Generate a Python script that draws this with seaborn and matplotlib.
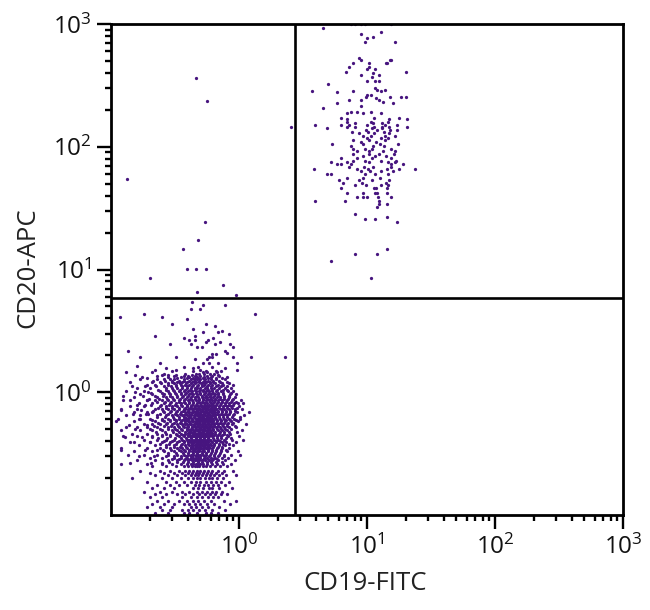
import matplotlib
matplotlib.use("Agg")
import matplotlib.pyplot as plt
from matplotlib.ticker import NullFormatter
import pandas as pd
import seaborn as sns

# events, grouped by CD20 level: each level has its CD19 values
upper_y = [1000, 927, 860, 825, 783, 770, 713, 530, 509, 481, 447, 430, 406, 400, 385, 372, 343,
           325, 300, 290, 285, 280, 262, 252, 248, 240, 232, 226, 214, 207,
           192, 187, 173, 168, 160, 155, 150, 145, 142, 137, 133, 130, 123, 118, 113, 109, 106, 101,
           96, 92, 88, 84, 80.5, 77, 75, 72.5, 69, 66, 63, 60, 56, 54, 51, 49,
           46.5, 42, 39, 36, 34, 32, 28.4, 26.8, 26, 24.3, 14.7, 13.3, 11.7, 8.5]
upper_x = [[7.5, 8.0, 8.9, 9.6, 15.4], [4.57], [12.8], [8.9], [11.1], [9.95], [9.6, 16.5],
           [8.6], [8.93, 15.2, 15.4], [7.73, 10.3, 14.0, 14.3], [7.2, 10.3], [9.95, 11.5],
           [6.9, 20.0], [11.2], [8.93, 12.4], [10.9], [9.95, 11.5, 12.4],
           [5.0], [11.5], [11.9, 13.8], [3.74, 7.73, 12.8], [5.78], [9.95, 10.7],
           [9.8, 15.0, 18.4, 20.0], [11.7], [7.19, 8.93, 12.4], [13.3], [5.78, 16.0], [8.93], [4.57],
           [7.45, 8.31, 10.8], [9.26, 7.02, 12.8], [6.22, 11.3, 17.8], [6.93, 14.8, 20.5],
           [6.93, 10.7, 14.6], [8.01, 11.05, 13.0], [3.95, 6.22, 7.19, 9.95, 13.8, 17.1],
           [6.93, 8.01, 11.3, 13.0, 14.8, 20.5], [4.83, 10.9, 13.2], [9.75, 11.9, 15.1, 17.1],
           [7.6, 10.1, 13.5], [8.61, 11.4, 14.8], [9.26, 10.8, 13.8, 16.5], [9.95, 12.9, 14.6],
           [7.73, 10.3, 13.8], [8.93, 11.7], [5.36, 9.26, 12.6, 17.5], [7.45, 11.2, 13.5],
           [7.73, 9.6, 11.0, 15.4], [8.31, 10.3, 13.3, 16.5], [7.73, 10.3, 12.4, 16.2],
           [9.26, 11.6, 14.0], [6.22, 8.31, 10.9, 15.4], [7.73, 9.6, 12.8, 16.8],
           [5.19, 6.93, 10.3, 14.6, 16.5], [5.78, 6.22, 7.55, 15.4, 19.1], [7.19, 9.4, 11.2, 15.4],
           [3.88, 8.31, 10.1, 14.3, 17.8, 23.6], [8.93, 10.6, 12.8, 16.1], [4.83, 5.19, 9.6, 11.5, 14.6],
           [6.93, 9.26, 12.6], [5.99, 8.7, 11.0, 14.8], [6.45, 9.1, 14.0], [8.01, 9.8, 12.8, 14.5],
           [6.22, 11.3, 11.7, 14.3], [6.93, 9.26, 11.5, 11.9, 14.3], [8.31, 9.26, 9.95, 12.1, 15.4],
           [3.95, 6.68, 12.4], [12.4, 14.3], [11.9], [8.01], [14.3], [9.6, 11.5], [17.1],
           [14.3], [8.01, 11.9], [5.19], [10.7]]

lower_y = [55, 363, 236, 145, 24.4, 17.4, 14.7, 10.1, 8.5, 7.5, 6.6, 6.2,
           5.4, 5.1, 4.8, 4.3, 4.1, 3.95, 3.6, 3.45, 3.3, 3.15, 3.1, 3.0, 2.85, 2.75, 2.66, 2.55,
           2.48, 2.34, 2.17, 2.1, 2.05, 1.93, 1.85, 1.73, 1.65, 1.58, 1.52, 1.46, 1.38, 1.33,
           1.28, 1.21, 1.15, 1.08, 1.02, 0.97, 0.91, 0.86, 0.81, 0.77, 0.73, 0.69, 0.65, 0.61,
           0.58, 0.55, 0.52, 0.49, 0.46, 0.44, 0.41, 0.39, 0.37, 0.35, 0.33, 0.31, 0.29, 0.28,
           0.26, 0.25, 0.23, 0.22, 0.21, 0.20, 0.185, 0.175, 0.165, 0.155, 0.147, 0.139, 0.131,
           0.124, 0.117, 0.110, 0.104]
lower_x = [[0.133], [0.462], [0.565], [2.56], [0.544], [0.479], [0.366], [0.39, 0.46, 0.55], [0.2], [0.75],
           [0.47], [0.95],
           [0.43], [0.52, 0.78], [0.42, 0.5], [0.18, 1.34], [0.118, 0.25], [0.39], [0.30, 0.55], [0.65],
           [0.44], [0.74], [0.52, 0.69], [0.84], [0.22, 0.45], [0.37, 0.63], [0.41, 0.45, 0.57],
           [0.55, 0.71], [0.29, 0.42, 0.65, 0.85], [0.47, 0.51, 0.89], [0.136, 0.78], [0.81],
           [0.61, 0.66], [0.17, 0.32, 0.58, 0.61, 0.9, 1.25, 2.3], [0.45, 0.56],
           [0.24, 0.52, 0.58, 0.69, 0.97], [0.16], [0.27, 0.44, 0.78], [0.22, 0.32, 0.5, 0.97],
           [0.13, 0.21, 0.52, 0.56, 0.67], [0.155, 0.25, 0.28, 0.32, 0.43, 0.69],
           [0.175, 0.28, 0.35, 0.41, 0.47, 0.53, 0.6, 0.8],
           [0.17, 0.23, 0.26, 0.29, 0.31, 0.37, 0.42, 0.45, 0.47, 0.50, 0.54, 0.60, 0.66, 0.78],
           [0.14, 0.21, 0.24, 0.30, 0.33, 0.36, 0.39, 0.43, 0.46, 0.49, 0.52, 0.55, 0.59, 0.63, 0.71, 0.80],
           [0.19, 0.22, 0.28, 0.32, 0.35, 0.38, 0.41, 0.44, 0.48, 0.51, 0.53, 0.57, 0.61, 0.68, 0.75, 0.9],
           [0.16, 0.20, 0.27, 0.30, 0.33, 0.36, 0.39, 0.42, 0.45, 0.47, 0.50, 0.54, 0.56, 0.60, 0.64, 0.70, 0.78, 0.86],
           [0.13, 0.18, 0.24, 0.28, 0.31, 0.34, 0.37, 0.40, 0.43, 0.46, 0.49, 0.52, 0.55, 0.58, 0.62, 0.66, 0.72, 0.82, 0.90],
           [0.17, 0.21, 0.26, 0.29, 0.32, 0.35, 0.38, 0.41, 0.44, 0.47, 0.50, 0.53, 0.57, 0.60, 0.65, 0.69, 0.75, 0.85, 0.95],
           [0.15, 0.23, 0.27, 0.30, 0.33, 0.36, 0.39, 0.42, 0.45, 0.48, 0.51, 0.54, 0.56, 0.59, 0.63, 0.67, 0.71, 0.77, 0.83, 0.93],
           [0.125, 0.19, 0.22, 0.25, 0.28, 0.31, 0.34, 0.37, 0.40, 0.43, 0.46, 0.49, 0.52, 0.55, 0.58, 0.61, 0.65, 0.69, 0.74, 0.80, 0.88, 1.03],
           [0.165, 0.21, 0.26, 0.29, 0.32, 0.35, 0.38, 0.41, 0.44, 0.47, 0.50, 0.53, 0.56, 0.60, 0.63, 0.67, 0.72, 0.78, 0.84, 0.91, 0.98, 1.08],
           [0.14, 0.18, 0.24, 0.27, 0.30, 0.33, 0.36, 0.39, 0.42, 0.45, 0.48, 0.51, 0.54, 0.57, 0.61, 0.65, 0.70, 0.75, 0.81, 0.87, 1.0],
           [0.12, 0.16, 0.22, 0.25, 0.28, 0.31, 0.34, 0.37, 0.40, 0.43, 0.46, 0.49, 0.52, 0.55, 0.59, 0.62, 0.66, 0.72, 0.77, 0.83, 0.93, 1.05],
           [0.15, 0.19, 0.21, 0.26, 0.29, 0.32, 0.35, 0.38, 0.41, 0.44, 0.47, 0.50, 0.53, 0.56, 0.60, 0.64, 0.68, 0.73, 0.79, 0.85, 0.97, 1.2],
           [0.13, 0.17, 0.23, 0.27, 0.30, 0.33, 0.36, 0.39, 0.42, 0.45, 0.48, 0.51, 0.54, 0.57, 0.61, 0.65, 0.70, 0.75, 0.81, 0.89, 1.1],
           [0.165, 0.2, 0.25, 0.28, 0.31, 0.34, 0.37, 0.40, 0.43, 0.46, 0.49, 0.52, 0.55, 0.58, 0.62, 0.66, 0.71, 0.76, 0.83, 0.91, 1.02],
           [0.11, 0.15, 0.22, 0.26, 0.29, 0.32, 0.35, 0.38, 0.41, 0.44, 0.47, 0.50, 0.53, 0.56, 0.59, 0.63, 0.67, 0.72, 0.78, 0.86, 0.98],
           [0.18, 0.21, 0.24, 0.27, 0.30, 0.33, 0.36, 0.39, 0.42, 0.45, 0.48, 0.51, 0.54, 0.57, 0.60, 0.64, 0.69, 0.74, 0.80, 0.88, 1.13],
           [0.13, 0.16, 0.19, 0.23, 0.28, 0.31, 0.34, 0.37, 0.40, 0.43, 0.46, 0.49, 0.52, 0.55, 0.58, 0.62, 0.66, 0.71, 0.77, 0.84, 0.95],
           [0.12, 0.17, 0.21, 0.25, 0.30, 0.33, 0.36, 0.39, 0.42, 0.45, 0.47, 0.49, 0.51, 0.53, 0.56, 0.59, 0.63, 0.68, 0.73, 0.80, 1.05],
           [0.145, 0.19, 0.23, 0.27, 0.32, 0.35, 0.38, 0.41, 0.44, 0.46, 0.48, 0.50, 0.52, 0.54, 0.57, 0.60, 0.65, 0.70, 0.76, 0.85],
           [0.125, 0.16, 0.21, 0.25, 0.29, 0.34, 0.37, 0.40, 0.42, 0.44, 0.46, 0.48, 0.50, 0.52, 0.55, 0.58, 0.62, 0.67, 0.72, 0.82, 1.0],
           [0.18, 0.23, 0.27, 0.31, 0.36, 0.39, 0.41, 0.43, 0.45, 0.47, 0.49, 0.51, 0.53, 0.56, 0.59, 0.64, 0.69, 0.76, 0.88, 1.08],
           [0.14, 0.2, 0.25, 0.29, 0.33, 0.37, 0.40, 0.42, 0.44, 0.46, 0.48, 0.50, 0.52, 0.54, 0.57, 0.61, 0.66, 0.73, 0.79, 0.95],
           [0.165, 0.22, 0.27, 0.31, 0.35, 0.38, 0.41, 0.43, 0.45, 0.47, 0.49, 0.51, 0.53, 0.56, 0.60, 0.64, 0.70, 0.78, 0.90],
           [0.12, 0.19, 0.24, 0.29, 0.33, 0.36, 0.39, 0.42, 0.44, 0.46, 0.48, 0.50, 0.52, 0.55, 0.58, 0.62, 0.67, 0.74, 0.84],
           [0.15, 0.21, 0.26, 0.31, 0.35, 0.38, 0.41, 0.43, 0.45, 0.47, 0.49, 0.51, 0.53, 0.57, 0.61, 0.66, 0.72, 0.8, 0.98],
           [0.135, 0.18, 0.23, 0.28, 0.33, 0.37, 0.40, 0.42, 0.44, 0.46, 0.48, 0.50, 0.52, 0.55, 0.59, 0.64, 0.7, 0.77, 0.87, 1.02],
           [0.2, 0.25, 0.31, 0.35, 0.39, 0.42, 0.44, 0.46, 0.48, 0.50, 0.53, 0.56, 0.60, 0.65, 0.73, 0.82],
           [0.16, 0.22, 0.28, 0.33, 0.37, 0.40, 0.43, 0.45, 0.47, 0.49, 0.51, 0.54, 0.58, 0.62, 0.69, 0.78, 0.93],
           [0.12, 0.19, 0.25, 0.30, 0.35, 0.39, 0.42, 0.44, 0.46, 0.48, 0.50, 0.52, 0.56, 0.61, 0.67, 0.75, 0.86],
           [0.21, 0.27, 0.32, 0.37, 0.40, 0.43, 0.45, 0.47, 0.49, 0.52, 0.55, 0.59, 0.65, 0.71, 0.8],
           [0.17, 0.24, 0.29, 0.34, 0.38, 0.41, 0.44, 0.47, 0.50, 0.53, 0.57, 0.62, 0.68, 0.76, 0.9],
           [0.2, 0.26, 0.31, 0.36, 0.40, 0.43, 0.46, 0.49, 0.52, 0.56, 0.6, 0.66, 0.73],
           [0.22, 0.28, 0.33, 0.38, 0.42, 0.45, 0.48, 0.51, 0.55, 0.59, 0.64, 0.7, 0.79, 0.95],
           [0.145, 0.25, 0.3, 0.35, 0.4, 0.44, 0.47, 0.5, 0.54, 0.58, 0.62, 0.67, 0.75],
           [0.19, 0.27, 0.32, 0.37, 0.42, 0.46, 0.5, 0.55, 0.6, 0.66, 0.72, 0.84],
           [0.23, 0.29, 0.34, 0.39, 0.45, 0.49, 0.53, 0.57, 0.63, 0.69, 0.78],
           [0.21, 0.26, 0.31, 0.44, 0.48, 0.52, 0.58, 0.62, 0.7, 0.88],
           [0.18, 0.24, 0.3, 0.36, 0.41, 0.47, 0.51, 0.56, 0.61, 0.66, 0.74],
           [0.22, 0.27, 0.33, 0.38, 0.44, 0.49, 0.54, 0.59, 0.65, 0.72, 0.8],
           [0.2, 0.25, 0.36, 0.42, 0.47, 0.51, 0.57, 0.63, 0.69],
           [0.23, 0.28, 0.34, 0.39, 0.44, 0.48, 0.53, 0.6, 0.76, 0.95],
           [0.21, 0.26, 0.31, 0.37, 0.41, 0.45, 0.5, 0.56, 0.64, 0.85],
           [0.19, 0.24, 0.3, 0.42, 0.46, 0.51, 0.57, 0.7],
           [0.25, 0.29, 0.36, 0.4, 0.44, 0.49, 0.54, 0.62, 0.78],
           [0.22, 0.28, 0.37, 0.41, 0.47, 0.55, 0.6, 0.68],
           [0.135, 0.26, 0.3, 0.39, 0.43, 0.5, 0.58, 0.72, 0.88],
           [0.21, 0.25, 0.36, 0.44, 0.48, 0.53, 0.6],
           [0.2, 0.27, 0.34, 0.39, 0.46, 0.54, 0.65, 0.78],
           [0.23, 0.28, 0.37, 0.41, 0.5, 0.57, 0.62],
           [0.2, 0.25, 0.35, 0.43, 0.47, 0.53, 0.67],
           [0.22, 0.27, 0.38, 0.45, 0.5, 0.6, 0.72]]

# the dense core of the lower population, between the levels above
core_y = [1.245, 1.18, 1.115, 1.05, 0.995, 0.94, 0.885, 0.835, 0.79, 0.75, 0.71, 0.67, 0.63, 0.595,
          0.565, 0.535, 0.505, 0.475, 0.45, 0.425, 0.40, 0.38, 0.36, 0.34, 0.32, 0.30, 0.285, 0.27]
core_x = [[.212, .262, .297, .338, .372, .405, .448, .487, .532, .574, .622, .695],
          [.245, .277, .312, .349, .386, .418, .457, .503, .546, .592, .648, .735, .83],
          [.226, .258, .292, .324, .358, .394, .432, .468, .515, .562, .604, .658, .727, .81],
          [.235, .268, .303, .343, .377, .412, .453, .492, .528, .569, .613, .676, .744, .805],
          [.205, .252, .283, .318, .353, .388, .424, .462, .497, .538, .581, .628, .683, .756, .872],
          [.222, .256, .287, .327, .362, .398, .433, .472, .512, .551, .593, .642, .691, .767, .838],
          [.198, .238, .273, .306, .344, .379, .416, .451, .486, .524, .566, .608, .654, .707, .761, .822, .905],
          [.228, .262, .296, .337, .371, .404, .441, .478, .517, .557, .598, .636, .685, .738, .796, .862, .948],
          [.206, .247, .284, .318, .352, .389, .427, .463, .502, .539, .578, .619, .661, .714, .772, .829, .897],
          [.233, .269, .301, .341, .376, .412, .448, .487, .526, .567, .606, .651, .698, .753, .808, .874, .962],
          [.214, .254, .292, .327, .363, .398, .436, .473, .511, .552, .592, .634, .682, .731, .791, .846, .925],
          [.196, .241, .279, .314, .349, .385, .421, .459, .497, .536, .577, .623, .668, .719, .775, .838, .912],
          [.227, .266, .303, .338, .372, .409, .444, .483, .521, .561, .603, .646, .695, .748, .807, .878, 1.01],
          [.209, .251, .289, .324, .358, .394, .431, .468, .506, .544, .586, .629, .677, .729, .787, .853, .945],
          [.235, .274, .311, .346, .381, .417, .454, .491, .529, .571, .614, .659, .708, .766, .826, .894],
          [.218, .259, .296, .333, .368, .403, .439, .477, .514, .553, .596, .641, .689, .747, .812, .931],
          [.243, .281, .318, .354, .389, .424, .461, .498, .537, .579, .623, .671, .724, .783, .862],
          [.226, .266, .303, .341, .376, .411, .447, .484, .522, .563, .607, .654, .706, .764, .829, .958],
          [.251, .289, .328, .363, .398, .434, .471, .509, .548, .591, .638, .689, .743, .806],
          [.234, .274, .314, .351, .386, .421, .458, .496, .534, .576, .622, .673, .728, .792, .871],
          [.258, .298, .337, .374, .409, .445, .483, .521, .561, .606, .657, .712, .773],
          [.243, .284, .323, .361, .397, .433, .47, .508, .548, .593, .642, .697, .755, .84],
          [.268, .309, .349, .385, .421, .458, .496, .536, .581, .628, .681, .738],
          [.254, .296, .337, .373, .409, .446, .484, .524, .568, .614, .665, .721, .79],
          [.281, .324, .362, .398, .434, .472, .512, .556, .601, .648, .705],
          [.268, .312, .351, .387, .422, .46, .5, .543, .587, .634, .688, .76],
          [.297, .339, .376, .411, .449, .488, .531, .574, .621, .674],
          [.284, .327, .365, .399, .437, .476, .518, .561, .607, .657, .732]]

# darkest centre, top fringe and left wing of the lower population
center_y = [.775, .725, .69, .655, .615, .58, .55, .52, .49, .463, .437, .412, .39, .37, .35]
center_x = [[.392, .418, .452, .478, .508, .531, .558, .587, .612, .642],
            [.381, .405, .439, .466, .492, .518, .547, .574, .603, .627, .661],
            [.397, .427, .455, .482, .506, .529, .557, .583, .614, .648],
            [.372, .409, .442, .468, .493, .517, .544, .571, .597, .632],
            [.388, .418, .453, .479, .503, .527, .554, .581, .612, .654],
            [.401, .433, .462, .488, .513, .539, .564, .591, .626],
            [.378, .412, .447, .473, .497, .521, .546, .574, .603, .637],
            [.392, .426, .456, .483, .507, .531, .558, .586, .618],
            [.409, .438, .466, .491, .515, .541, .569, .597],
            [.396, .428, .454, .479, .503, .527, .553, .582, .615],
            [.414, .443, .468, .492, .516, .542, .571],
            [.402, .431, .457, .481, .505, .531, .559, .592],
            [.421, .449, .473, .497, .522, .551],
            [.437, .463, .488, .513, .541, .576],
            [.418, .451, .477, .502, .529, .562]]
fringe_y = [1.62, 1.50, 1.42, 1.36, 1.31, 1.12, 1.0, .93, .87, .79, .72, .66, .6, .54, .5, .43,
            .39, .34, .3, .265]
fringe_x = [[.37, .48, .62], [.30, .44, .55, .66, .72], [.26, .38, .46, .49, .53, .59, .64],
            [.23, .31, .37, .40, .45, .50, .56, .62, .70], [.19, .33, .39, .44, .48, .52, .57, .66, .74],
            [.145, .185], [.155, .195], [.125, .178], [.14, .19], [.16, .183], [.12, .172],
            [.148, .188], [.113, .168], [.137, .19], [.155, .2], [.128, .174, .21], [.15, .2],
            [.12, .185, .23], [.165, .215], [.14, .205, .25]]

# gate positions and tick labels
x_gate = 2.72
y_gate = 5.86
major_ticks = [1, 10, 100, 1000]
tick_labels = ["$\\mathdefault{10^{0}}$", "$\\mathdefault{10^{1}}$",
               "$\\mathdefault{10^{2}}$", "$\\mathdefault{10^{3}}$"]

rows = []
for levels, xs in [(upper_y, upper_x), (lower_y, lower_x), (core_y, core_x),
                   (center_y, center_x), (fringe_y, fringe_x)]:
    for level, vals in zip(levels, xs):
        for val in vals:
            rows.append((val, level))
events = pd.DataFrame(rows, columns=["cd19", "cd20"])

sns.set_style("white")
plt.rcParams["font.family"] = ["Open Sans", "DejaVu Sans"]
plt.rcParams["mathtext.fontset"] = "custom"
plt.rcParams["mathtext.rm"] = "Open Sans"
plt.rcParams["mathtext.default"] = "regular"

fig = plt.figure(figsize=(6.5, 6.1), dpi=100)
ax = fig.add_axes([111 / 650, 1 - 515 / 610, 512 / 650, 491 / 610])

sns.scatterplot(data=events, x="cd19", y="cd20", color="#47157f", s=5.5, marker="o",
                linewidth=0, ax=ax, legend=False)

ax.set_xscale("log")
ax.set_yscale("log")
ax.set_xlim(0.1, 1000)
ax.set_ylim(0.1, 1000)

ax.axvline(x_gate, color="black", lw=1.9)
ax.axhline(y_gate, color="black", lw=1.9)

for axis in (ax.xaxis, ax.yaxis):
    axis.set_minor_formatter(NullFormatter())
ax.set_xticks(major_ticks, tick_labels)
ax.set_yticks(major_ticks, tick_labels)
ax.tick_params(which="major", direction="out", length=10, width=1.7, labelsize=17.5, pad=4,
               bottom=True, left=True, color="black", labelcolor="#111111")
ax.tick_params(which="minor", direction="out", length=4.6, width=1.7, bottom=True, left=True,
               color="black")

for spine in ax.spines.values():
    spine.set_color("black")
    spine.set_linewidth(2)

ax.set_xlabel("CD19-FITC", fontsize=18.5, color="#222222", va="center")
ax.set_ylabel("CD20-APC", fontsize=18.5, color="#222222", va="center")
ax.xaxis.set_label_coords(0.496, -0.14)
ax.yaxis.set_label_coords(-0.162, 0.503)

fig.savefig("out.png", dpi=100)
